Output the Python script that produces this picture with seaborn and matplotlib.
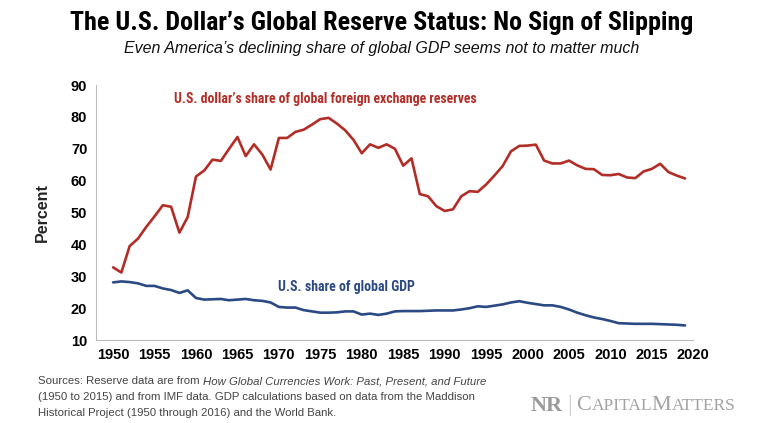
import numpy as np
import pandas as pd
import matplotlib
matplotlib.use("Agg")
import matplotlib.pyplot as plt
from matplotlib import font_manager as fm
import seaborn as sns

# Data (percent)
years = list(range(1950, 2020))
reserve_share = [32.8, 31.2, 39.5, 41.8, 45.5, 48.8, 52.3, 51.8, 43.7, 48.6,
                 61.3, 63.2, 66.6, 66.2, 70.0, 73.7, 67.7, 71.4, 68.2, 63.5,
                 73.4, 73.4, 75.3, 76.0, 77.6, 79.3, 79.7, 77.9, 75.8, 72.8,
                 68.6, 71.4, 70.3, 71.4, 70.0, 64.7, 67.0, 55.8, 55.1, 52.0,
                 50.5, 51.0, 55.1, 56.7, 56.5, 58.8, 61.6, 64.6, 69.2, 70.9,
                 71.0, 71.3, 66.3, 65.4, 65.4, 66.3, 64.8, 63.7, 63.6, 61.8,
                 61.7, 62.1, 61.0, 60.8, 62.9, 63.7, 65.3, 62.7, 61.6, 60.7]
gdp_share = [28.1, 28.4, 28.2, 27.8, 27.0, 27.0, 26.2, 25.7, 24.8, 25.6,
             23.2, 22.7, 22.8, 22.9, 22.5, 22.7, 22.9, 22.5, 22.3, 21.8,
             20.4, 20.2, 20.2, 19.4, 19.0, 18.6, 18.6, 18.7, 19.0, 19.0,
             18.0, 18.3, 17.9, 18.3, 19.0, 19.1, 19.1, 19.1, 19.2, 19.3,
             19.3, 19.3, 19.6, 20.0, 20.6, 20.4, 20.8, 21.2, 21.8, 22.2,
             21.7, 21.3, 20.9, 20.9, 20.4, 19.6, 18.6, 17.8, 17.1, 16.6,
             16.0, 15.3, 15.2, 15.1, 15.1, 15.1, 15.0, 14.9, 14.8, 14.6]
x_ticks = list(range(1950, 2021, 5))
y_ticks = list(range(10, 91, 10))

red = "#b32d27"
blue = "#2b4a84"

df = pd.DataFrame({"year": years, "reserves": reserve_share, "gdp": gdp_share})

sns.set_style("white")
plt.rcParams["font.family"] = ["Liberation Sans", "DejaVu Sans"]

# pick a condensed bold face for the headline-style texts
installed = {f.name for f in fm.fontManager.ttflist}
narrow_family = None
for cand in ["Roboto Condensed", "Archivo Narrow", "PT Sans Narrow", "Liberation Sans Narrow",
             "Fira Sans Condensed", "IBM Plex Sans Condensed", "Barlow Semi Condensed",
             "Encode Sans Condensed", "Asap Condensed", "Sofia Sans Condensed"]:
    if cand in installed:
        narrow_family = cand
        break
if narrow_family:
    narrow = dict(family=narrow_family, stretch="normal")
else:
    narrow = dict(family="Open Sans", stretch="condensed")

fig = plt.figure(figsize=(7.63, 4.23), dpi=100)
ax = fig.add_axes([0.1254, 0.196, 0.7833, 0.603])

sns.lineplot(data=df, x="year", y="reserves", color=red, linewidth=1.9, ax=ax)
sns.lineplot(data=df, x="year", y="gdp", color=blue, linewidth=1.9, ax=ax)

ax.set_xlim(1947.9, 2020)
ax.set_ylim(10, 90)
ax.set_xticks(x_ticks)
ax.set_yticks(y_ticks)
ax.tick_params(axis="both", direction="out", length=4, width=0.8, color="#aaaaaa",
               labelsize=10.5, labelcolor="black", pad=2)
for lab in ax.get_xticklabels() + ax.get_yticklabels():
    lab.set_fontweight("bold")
for side in ["top", "right"]:
    ax.spines[side].set_visible(False)
for side in ["left", "bottom"]:
    ax.spines[side].set_color("#bbbbbb")
    ax.spines[side].set_linewidth(0.8)
ax.set_xlabel("")
ax.set_ylabel("Percent", fontsize=11.5, fontweight="bold", labelpad=15)

fig.canvas.draw()
renderer = fig.canvas.get_renderer()
W = fig.get_figwidth() * fig.dpi
H = fig.get_figheight() * fig.dpi


def fit_text(x, y, s, width_px, size, **kw):
    # shrink a text until it spans the width seen in the reference
    t = fig.text(x, y, s, fontsize=size, **kw)
    w = t.get_window_extent(renderer).width
    if w > width_px:
        t.set_fontsize(size * width_px / w)
    return t


fit_text(0.5, 0.946, "The U.S. Dollar\u2019s Global Reserve Status: No Sign of Slipping", 623, 21,
         ha="center", va="center", fontweight="bold", color="black", **narrow)
fig.text(0.5, 0.886, "Even America\u2019s declining share of global GDP seems not to matter much",
         ha="center", va="center", fontsize=11.5, style="italic", color="#111111")

# series labels, placed in data units
for xv, yv, s, col, wpx in [(1957.4, 85.5, "U.S. dollar\u2019s share of global foreign exchange reserves", red, 303),
                             (1969.9, 26.6, "U.S. share of global GDP", blue, 136)]:
    t = ax.text(xv, yv, s, color=col, fontsize=11, fontweight="bold", va="center", ha="left", **narrow)
    w = t.get_window_extent(renderer).width
    if w > wpx:
        t.set_fontsize(11 * wpx / w)


def put_parts(x_px, y_px, parts):
    # lay text pieces one after another on a line
    x = x_px
    for s, kw in parts:
        t = fig.text(x / W, 1 - y_px / H, s, va="center", ha="left", **kw)
        x += t.get_window_extent(renderer).width
    return x


src = dict(fontsize=8.2, color="#444444")
put_parts(38, 381, [("Sources: Reserve data are from ", src),
                    ("How Global Currencies Work: Past, Present, and Future",
                     dict(src, style="italic"))])
put_parts(38, 397, [("(1950 to 2015) and from IMF data. GDP calculations based on data from the Maddison", src)])
put_parts(38, 413, [("Historical Project (1950 through 2016) and the World Bank.", src)])

serif = ["Liberation Serif", "DejaVu Serif"]
logo = "#a3a3a3"
big = dict(fontsize=16, color=logo, family=serif)
small = dict(fontsize=12.5, color=logo, family=serif)
put_parts(531, 406, [("NR", dict(big, fontweight="bold", color="#9a9a9a")), (" ", small),
                     ("|", dict(fontsize=17, color="#cccccc", family=serif)), (" ", small),
                     ("C", big), ("APITAL", small), ("M", big), ("ATTERS", small)])

fig.savefig("out.png", dpi=100)
